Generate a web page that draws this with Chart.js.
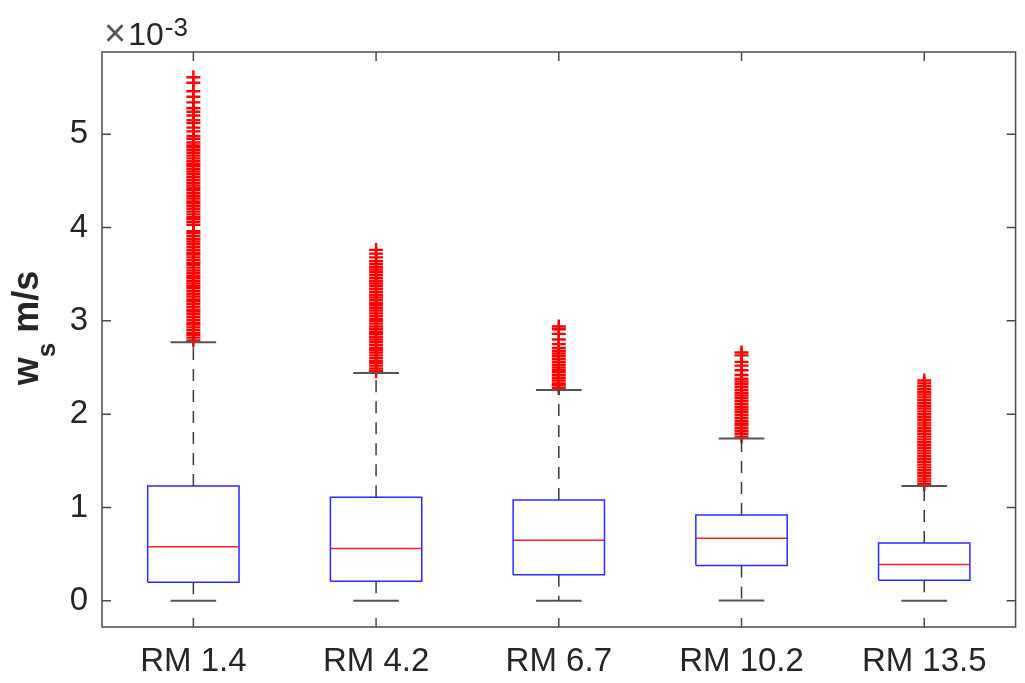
<!DOCTYPE html>
<html>
<head>
<meta charset="utf-8">
<title>w_s boxplot</title>
<script src="https://cdn.jsdelivr.net/npm/chart.js@4.4.1/dist/chart.umd.min.js"></script>
<style>
  html, body { margin: 0; padding: 0; background: #ffffff; }
  canvas { display: block; }
</style>
</head>
<body>
<canvas id="ws-boxplot" width="1025" height="683"></canvas>
<script>
// settling velocity per river mile, values in units of 1e-3 m/s
const categories = ["RM 1.4", "RM 4.2", "RM 6.7", "RM 10.2", "RM 13.5"];
const lowerWhisker = [0, 0, 0, 0.005, 0];
const q1 = [0.20, 0.21, 0.28, 0.38, 0.22];
const median = [0.58, 0.56, 0.65, 0.67, 0.39];
const q3 = [1.23, 1.11, 1.08, 0.92, 0.62];
const upperWhisker = [2.77, 2.44, 2.26, 1.74, 1.23];

const outliersRM14 = [
  2.79, 2.82, 2.85, 2.87, 2.90, 2.93, 2.96, 2.98, 3.01, 3.04, 3.07, 3.10, 3.12,
  3.15, 3.18, 3.21, 3.23, 3.26, 3.29, 3.32, 3.35, 3.37, 3.40, 3.43, 3.46, 3.48,
  3.51, 3.54, 3.57, 3.60, 3.62, 3.65, 3.68, 3.71, 3.73, 3.76, 3.79, 3.82, 3.85,
  3.88, 3.91, 3.94, 3.96, 4.03, 4.06, 4.09, 4.11, 4.14, 4.17, 4.20, 4.23, 4.26,
  4.28, 4.31, 4.34, 4.37, 4.40, 4.42, 4.45, 4.48, 4.51, 4.54, 4.57, 4.60, 4.63,
  4.66, 4.68, 4.71, 4.74, 4.77, 4.80, 4.83, 4.86, 4.88, 4.91, 4.95, 4.98, 5.03,
  5.07, 5.12, 5.15, 5.20, 5.24, 5.28, 5.34, 5.40, 5.46, 5.55, 5.61
];
const outliersRM42 = [
  2.46, 2.49, 2.52, 2.55, 2.57, 2.60, 2.63, 2.66, 2.69, 2.71, 2.74, 2.77, 2.80,
  2.83, 2.86, 2.88, 2.91, 2.94, 2.97, 3.00, 3.02, 3.05, 3.08, 3.11, 3.14, 3.17,
  3.19, 3.22, 3.25, 3.28, 3.31, 3.34, 3.37, 3.40, 3.43, 3.46, 3.49, 3.52, 3.55,
  3.58, 3.61, 3.64, 3.68, 3.72, 3.76
];
const outliersRM67 = [
  2.28, 2.31, 2.33, 2.36, 2.39, 2.42, 2.45, 2.47, 2.50, 2.53, 2.56, 2.59, 2.62,
  2.65, 2.68, 2.71, 2.75, 2.80, 2.86, 2.91, 2.94
];
const outliersRM102 = [
  1.76, 1.79, 1.82, 1.85, 1.88, 1.90, 1.93, 1.96, 1.99, 2.02, 2.05, 2.08, 2.11,
  2.14, 2.17, 2.20, 2.23, 2.26, 2.29, 2.32, 2.35, 2.38, 2.42, 2.47, 2.52, 2.56,
  2.63, 2.66
];
const outliersRM135 = [
  1.25, 1.28, 1.31, 1.34, 1.37, 1.40, 1.43, 1.46, 1.49, 1.52, 1.55, 1.58, 1.61,
  1.64, 1.67, 1.70, 1.73, 1.76, 1.79, 1.82, 1.85, 1.88, 1.91, 1.94, 1.97, 2.00,
  2.03, 2.06, 2.09, 2.12, 2.15, 2.18, 2.21, 2.24, 2.27, 2.30, 2.33, 2.36
];
const outliers = [outliersRM14, outliersRM42, outliersRM67, outliersRM102, outliersRM135];

const BOX_HALF = 0.25;
const CAP_HALF = 0.125;
const FONT = "'Liberation Sans', Arial, sans-serif";
const TEXT_COLOR = "#262626";

// build the line segments for each box, separated by null points
const boxPts = [], medianPts = [], whiskerPts = [], capPts = [], outlierPts = [];
categories.forEach((c, i) => {
  const x = i + 1;
  boxPts.push(
    {x: x - BOX_HALF, y: q1[i]}, {x: x + BOX_HALF, y: q1[i]},
    {x: x + BOX_HALF, y: q3[i]}, {x: x - BOX_HALF, y: q3[i]},
    {x: x - BOX_HALF, y: q1[i]}, {x: x, y: null}
  );
  medianPts.push({x: x - BOX_HALF, y: median[i]}, {x: x + BOX_HALF, y: median[i]}, {x: x, y: null});
  whiskerPts.push(
    {x: x, y: q3[i]}, {x: x, y: upperWhisker[i]}, {x: x, y: null},
    {x: x, y: q1[i]}, {x: x, y: lowerWhisker[i]}, {x: x, y: null}
  );
  capPts.push(
    {x: x - CAP_HALF, y: upperWhisker[i]}, {x: x + CAP_HALF, y: upperWhisker[i]}, {x: x, y: null},
    {x: x - CAP_HALF, y: lowerWhisker[i]}, {x: x + CAP_HALF, y: lowerWhisker[i]}, {x: x, y: null}
  );
  outliers[i].forEach((v) => outlierPts.push({x: x, y: v}));
});

function segDataset(data, color, width, dash) {
  return {
    data: data,
    showLine: true,
    spanGaps: false,
    borderColor: color,
    borderWidth: width,
    borderDash: dash || [],
    pointRadius: 0,
    fill: false,
  };
}

// frame, inward ticks, exponent and y label
const matlabAxes = {
  id: "matlabAxes",
  afterDraw(chart) {
    const ctx = chart.ctx;
    const a = chart.chartArea;
    const xs = chart.scales.x, ys = chart.scales.y;
    ctx.save();
    ctx.strokeStyle = "#4a4a4a";
    ctx.lineWidth = 1.5;
    ctx.strokeRect(a.left, a.top, a.right - a.left, a.bottom - a.top);
    const tl = 9;
    ctx.beginPath();
    ys.ticks.forEach((t) => {
      const y = ys.getPixelForValue(t.value);
      ctx.moveTo(a.left, y); ctx.lineTo(a.left + tl, y);
      ctx.moveTo(a.right, y); ctx.lineTo(a.right - tl, y);
    });
    xs.ticks.forEach((t) => {
      const x = xs.getPixelForValue(t.value);
      ctx.moveTo(x, a.bottom); ctx.lineTo(x, a.bottom - tl);
      ctx.moveTo(x, a.top); ctx.lineTo(x, a.top + tl);
    });
    ctx.stroke();

    ctx.fillStyle = TEXT_COLOR;
    ctx.textBaseline = "alphabetic";
    ctx.textAlign = "left";
    ctx.fillStyle = "#555555";
    ctx.font = "38px " + FONT;
    ctx.fillText("\u00d7", a.left + 2, 46);
    const wx = ctx.measureText("\u00d7").width;
    ctx.fillStyle = TEXT_COLOR;
    ctx.font = "32px " + FONT;
    ctx.fillText("10", a.left + 4 + wx, 45);
    const w10 = ctx.measureText("10").width;
    ctx.font = "26px " + FONT;
    ctx.fillText("-3", a.left + 4 + wx + w10 + 1, 36);

    // y label: w with subscript s, then m/s
    ctx.translate(38, 328);
    ctx.rotate(-Math.PI / 2);
    ctx.font = "bold 36px " + FONT;
    const wW = ctx.measureText("w").width;
    const rest = " m/s";
    const restW = ctx.measureText(rest).width;
    ctx.font = "bold 26px " + FONT;
    const sW = ctx.measureText("s").width;
    const total = wW + sW + restW;
    let px = -total / 2;
    ctx.font = "bold 36px " + FONT;
    ctx.fillText("w", px, 0);
    px += wW;
    ctx.font = "bold 26px " + FONT;
    ctx.fillText("s", px, 17);
    px += sW;
    ctx.font = "bold 36px " + FONT;
    ctx.fillText(rest, px, 0);
    ctx.restore();
  },
};

new Chart(document.getElementById("ws-boxplot"), {
  type: "scatter",
  data: {
    datasets: [
      segDataset(whiskerPts, "#3a3a3a", 1.5, [12, 9]),
      segDataset(capPts, "#555555", 2),
      segDataset(boxPts, "#2b2bff", 1.5),
      segDataset(medianPts, "#ff2020", 1.5),
      {
        data: outlierPts,
        showLine: false,
        pointStyle: "cross",
        pointRadius: 7,
        borderColor: "#ff0000",
        backgroundColor: "#ff0000",
        borderWidth: 2.4,
      },
    ],
  },
  options: {
    responsive: false,
    animation: false,
    events: [],
    layout: { padding: { top: 52, right: 1, left: 0, bottom: 0 } },
    plugins: {
      legend: { display: false },
      tooltip: { enabled: false },
    },
    scales: {
      x: {
        type: "linear",
        min: 0.5,
        max: 5.5,
        grid: { display: false, drawTicks: false },
        border: { display: false },
        afterBuildTicks: (s) => {
          s.ticks = categories.map((c, i) => ({ value: i + 1 }));
        },
        ticks: {
          autoSkip: false,
          maxRotation: 0,
          padding: 15,
          color: TEXT_COLOR,
          font: { family: FONT, size: 33 },
          callback: (v) => categories[Math.round(v) - 1],
        },
        afterFit: (s) => { s.height = 56; },
      },
      y: {
        min: -0.28,
        max: 5.88,
        grid: { display: false, drawTicks: false },
        border: { display: false },
        ticks: {
          stepSize: 1,
          includeBounds: false,
          padding: 14,
          color: TEXT_COLOR,
          font: { family: FONT, size: 33 },
        },
        afterFit: (s) => { s.width = 102; },
      },
    },
  },
  plugins: [matlabAxes],
});
</script>
</body>
</html>
